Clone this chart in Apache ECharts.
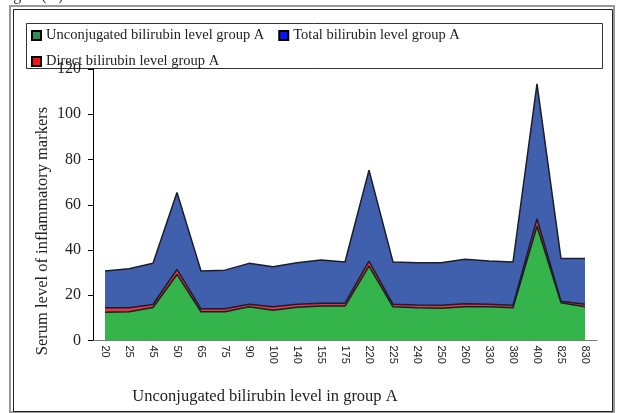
<!DOCTYPE html>
<html>
<head>
<meta charset="utf-8">
<script src="https://cdn.jsdelivr.net/npm/echarts@6/dist/echarts.min.js"></script>
<style>
  html, body { margin: 0; padding: 0; background: #fff; }
  #chart { width: 618px; height: 413px; }
</style>
</head>
<body>
<div id="chart"></div>
<script>
// dose categories on the x axis
const categories = ['20', '25', '45', '50', '65', '75', '90', '100', '140', '155', '175',
  '220', '225', '240', '250', '260', '330', '380', '400', '825', '830'];

// stacked bands, bottom to top
const unconjugated = [12.5, 12.7, 14.6, 29.2, 12.7, 12.7, 14.9, 13.4, 14.7, 15.2, 15.2,
  32.9, 14.9, 14.5, 14.2, 14.9, 14.9, 14.5, 50.5, 16.7, 14.9];
const direct = [2.0, 1.8, 1.3, 2.2, 1.3, 1.3, 1.1, 1.5, 1.3, 1.3, 1.3,
  2.2, 1.1, 1.2, 1.4, 1.3, 1.1, 1.1, 3.3, 0.7, 1.1];
const total = [16.2, 17.2, 18.2, 34.0, 16.7, 17.1, 18.1, 17.7, 18.4, 19.1, 18.2,
  40.2, 18.7, 18.7, 18.8, 19.7, 19.1, 19.1, 59.6, 18.8, 20.2];

const yTicks = [0, 20, 40, 60, 80, 100, 120];

const names = {
  unc: 'Unconjugated bilirubin level group A',
  tot: 'Total bilirubin level group A',
  dir: 'Direct bilirubin level group A'
};

const serif = '"Liberation Serif", "DejaVu Serif", serif';
const edge = { color: '#1c1c2a', width: 1.5 };

function band(name, data, fill) {
  return {
    name: name,
    type: 'line',
    stack: 'all',
    data: data,
    showSymbol: false,
    symbol: 'none',
    lineStyle: edge,
    itemStyle: { color: fill },
    areaStyle: { color: fill, opacity: 1 },
    emphasis: { disabled: true }
  };
}

function legendItem(name, color) {
  return { name: name, icon: 'rect', itemStyle: { color: color, borderColor: '#000', borderWidth: 2 } };
}

const legendText = { fontFamily: serif, fontSize: 14.5, color: '#222' };

const chart = echarts.init(document.getElementById('chart'));
chart.setOption({
  animation: false,
  backgroundColor: '#fff',
  grid: { left: 93, right: 21, top: 69, bottom: 72.5, containLabel: false },
  legend: [
    {
      left: 31, top: 28, padding: 0, itemGap: 14, itemWidth: 9, itemHeight: 9,
      selectedMode: false, textStyle: legendText,
      data: [legendItem(names.unc, '#2f8f55'), legendItem(names.tot, '#0a14ff')]
    },
    {
      left: 31, top: 54, padding: 0, itemWidth: 9, itemHeight: 9,
      selectedMode: false, textStyle: legendText,
      data: [legendItem(names.dir, '#ff1010')]
    }
  ],
  xAxis: {
    type: 'category',
    data: categories,
    boundaryGap: true,
    axisLine: { lineStyle: { color: '#777', width: 1 } },
    axisTick: { alignWithLabel: true, length: 4, lineStyle: { color: '#333' } },
    axisLabel: {
      rotate: -90, margin: 5, interval: 0,
      fontFamily: '"Liberation Sans", Arial, sans-serif', fontSize: 11, color: '#222'
    }
  },
  yAxis: {
    type: 'value',
    min: yTicks[0],
    max: yTicks[yTicks.length - 1],
    interval: 20,
    axisLine: { show: true, lineStyle: { color: '#000', width: 1 } },
    axisTick: { show: true, length: 5, lineStyle: { color: '#000' } },
    splitLine: { show: false },
    axisLabel: { margin: 12, fontFamily: serif, fontSize: 16, color: '#222' }
  },
  series: [
    band(names.unc, unconjugated, '#34b44a'),
    band(names.dir, direct, '#e8343c'),
    band(names.tot, total, '#4060ae')
  ],
  graphic: [
    // outer frame, double line
    { type: 'rect', silent: true, z: -1, shape: { x: 10, y: 6, width: 604, height: 406 },
      style: { fill: null, stroke: '#999', lineWidth: 2 } },
    { type: 'rect', silent: true, z: -1, shape: { x: 13.5, y: 9.5, width: 599, height: 402 },
      style: { fill: null, stroke: '#222', lineWidth: 1 } },
    // legend box
    { type: 'rect', silent: true, shape: { x: 26.5, y: 23.5, width: 576, height: 45 },
      style: { fill: null, stroke: '#333', lineWidth: 1 } },
    // clipped caption above the frame
    { type: 'text', silent: true, left: 0, top: -12,
      style: { text: 'Fig. 1 (A).', font: '16px ' + serif, fill: '#333' } },
    // y axis title
    { type: 'text', silent: true, x: 43, y: 231, rotation: Math.PI / 2,
      style: { text: 'Serum level of inflammatory markers', font: '16.5px ' + serif, fill: '#222',
        align: 'center', verticalAlign: 'middle' } },
    // x axis title
    { type: 'text', silent: true, x: 265, y: 397,
      style: { text: 'Unconjugated bilirubin level in group A', font: '16.5px ' + serif, fill: '#222',
        align: 'center', verticalAlign: 'middle' } }
  ]
});
</script>
</body>
</html>
